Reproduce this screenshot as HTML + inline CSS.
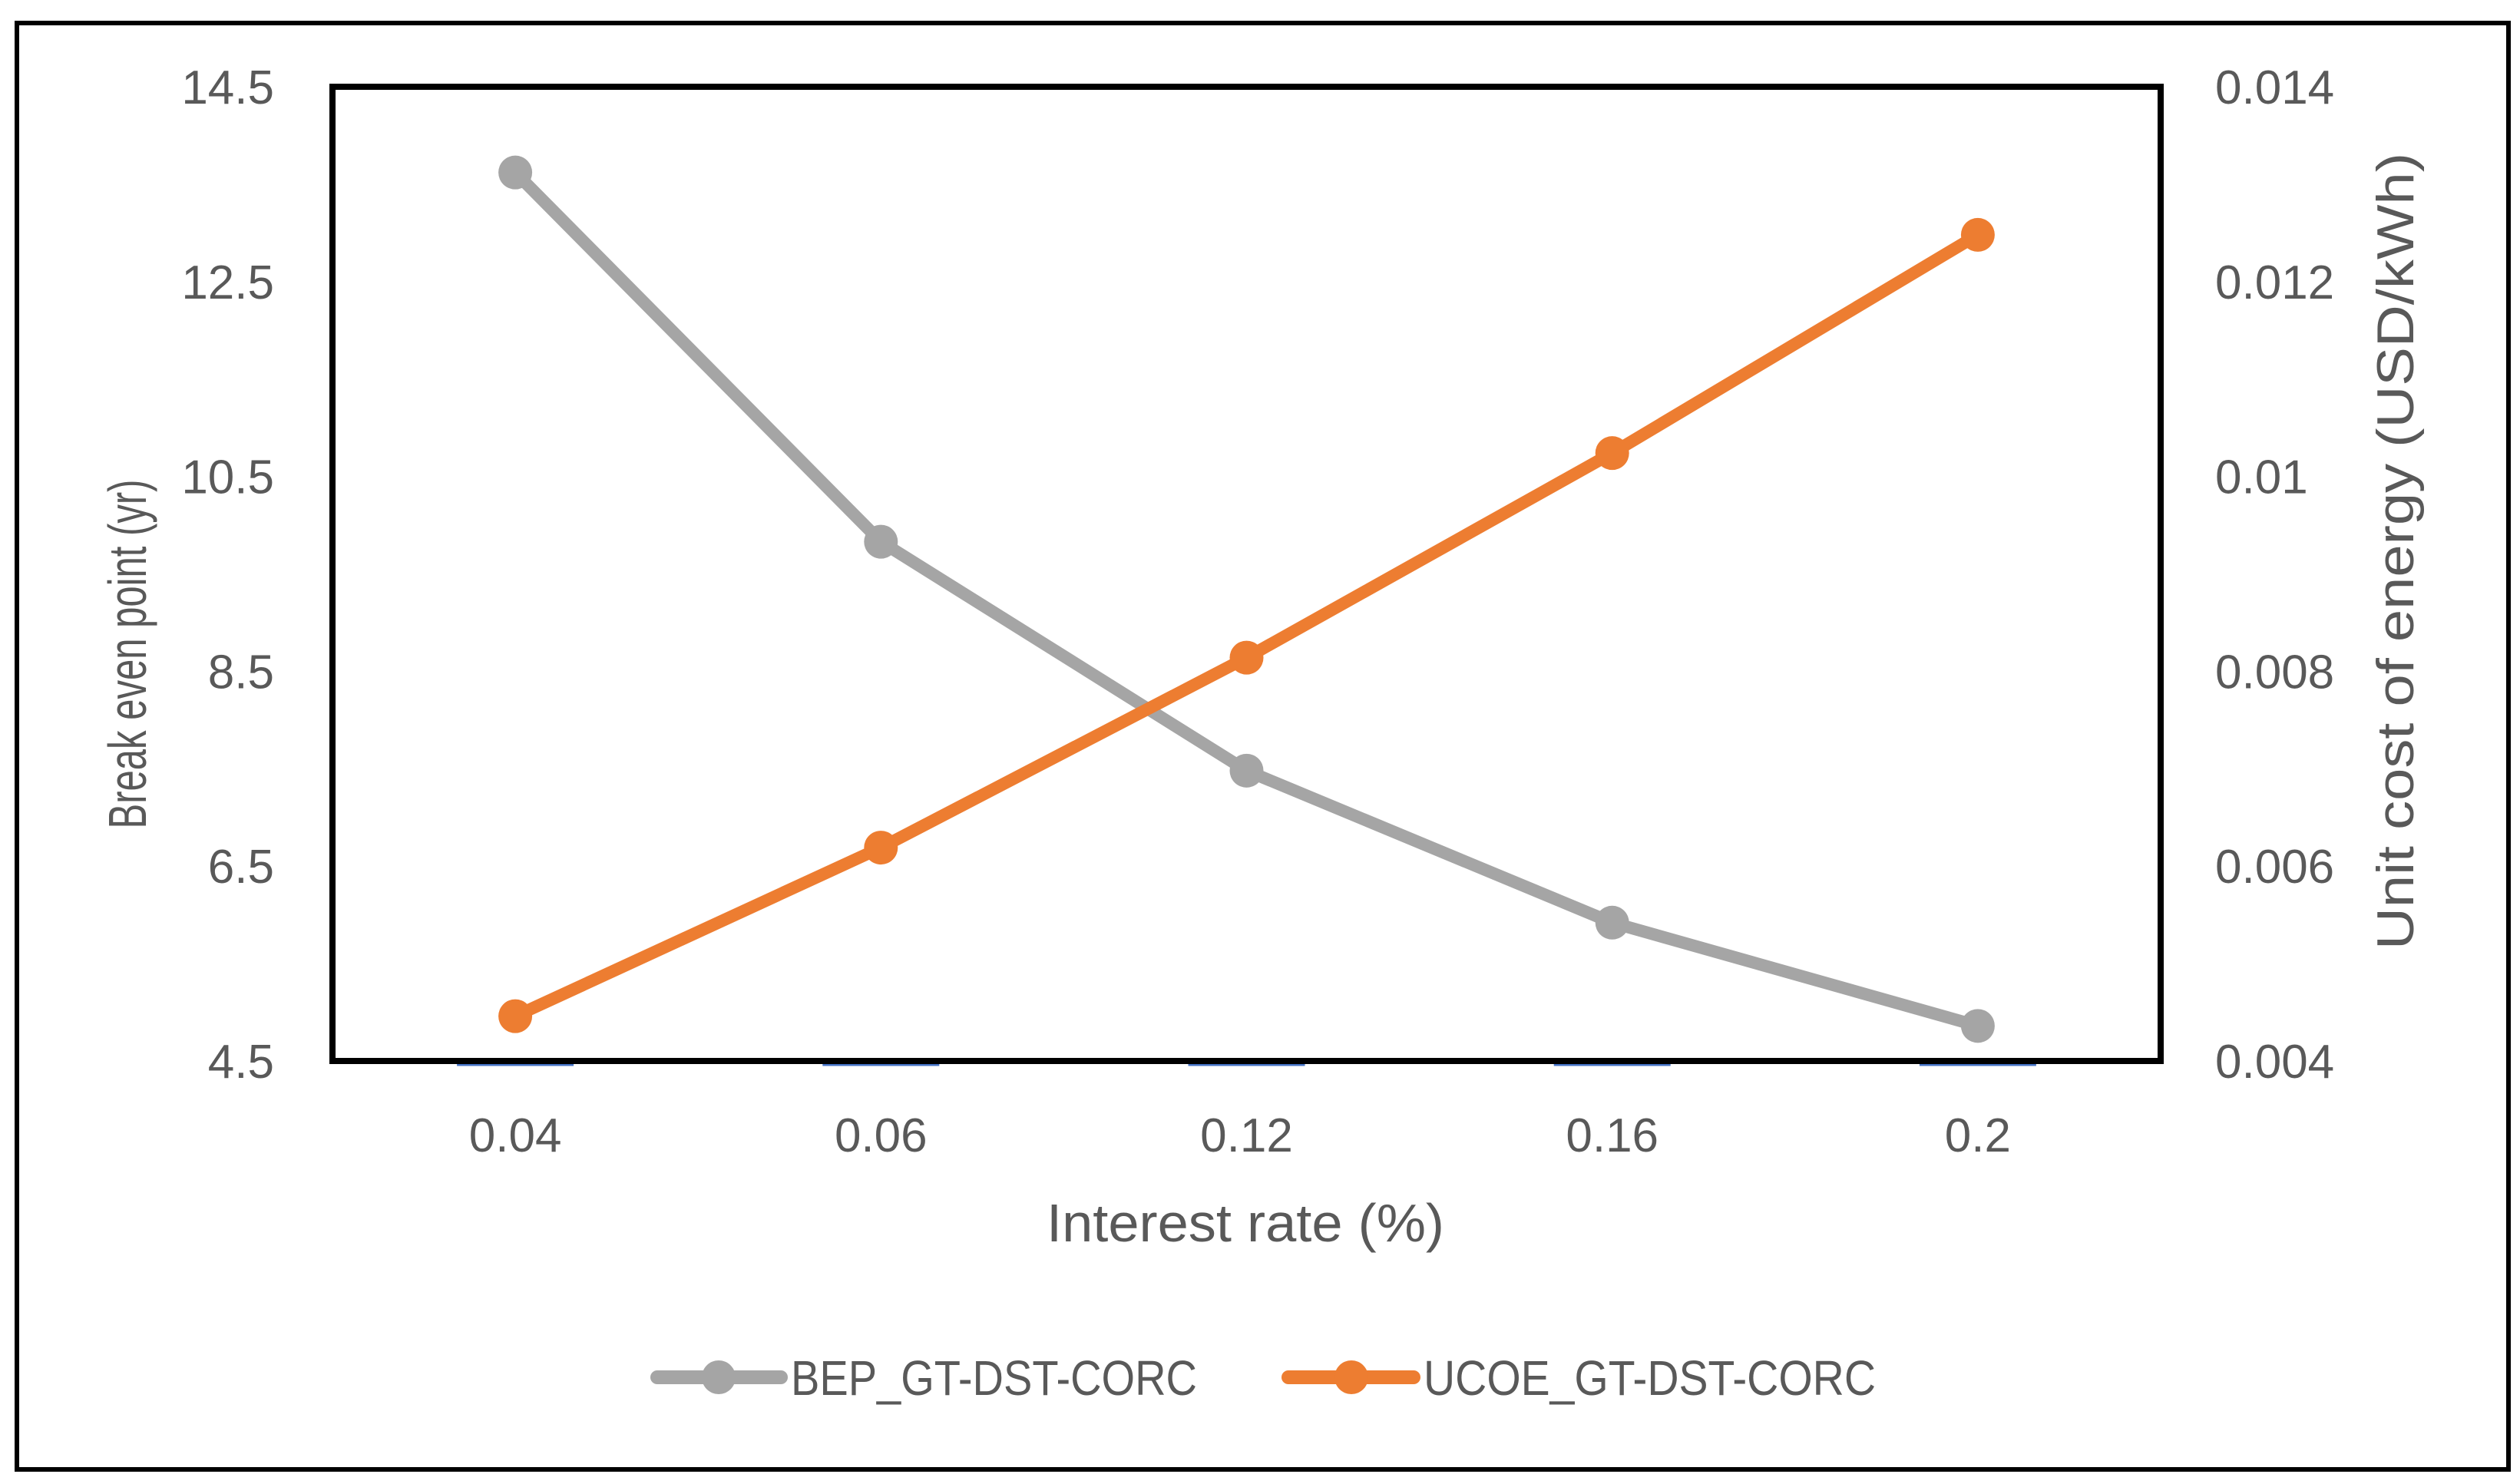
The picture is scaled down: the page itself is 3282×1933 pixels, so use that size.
<!DOCTYPE html>
<html><head><meta charset="utf-8"><style>
html,body{margin:0;padding:0;background:#fff;}
svg{display:block;}
text{font-family:"Liberation Sans",sans-serif;fill:#595959;}
</style></head><body>
<svg id="chart" width="3282" height="1933" viewBox="0 0 3282 1933">
<rect x="22" y="30" width="3245" height="1884" fill="#fff" stroke="#000" stroke-width="6"/>
<g id="grid"></g>
<g id="marks"></g>
<rect x="433" y="113" width="2381" height="1269" fill="none" stroke="#000" stroke-width="8"/>
<g id="labels"></g>
<text x="1622" y="1617" font-size="70" text-anchor="middle" textLength="518" lengthAdjust="spacingAndGlyphs">Interest rate (%)</text>
<text transform="translate(190,852) rotate(-90)" font-size="70" text-anchor="middle" textLength="455" lengthAdjust="spacingAndGlyphs">Break even point (yr)</text>
<text transform="translate(3143,718) rotate(-90)" font-size="68" text-anchor="middle" textLength="1038" lengthAdjust="spacingAndGlyphs">Unit cost of energy (USD/kWh)</text>
<g>
<g>
<line x1="856" y1="1794" x2="1017" y2="1794" stroke="#A5A5A5" stroke-width="18" stroke-linecap="round"/>
<circle cx="936" cy="1794" r="22" fill="#A5A5A5"/>
<text x="1030" y="1817" font-size="64" textLength="529" lengthAdjust="spacingAndGlyphs">BEP_GT-DST-CORC</text>
</g>
<g>
<line x1="1678" y1="1794" x2="1841" y2="1794" stroke="#ED7D31" stroke-width="18" stroke-linecap="round"/>
<circle cx="1760" cy="1794" r="22" fill="#ED7D31"/>
<text x="1854" y="1817" font-size="64" textLength="589" lengthAdjust="spacingAndGlyphs">UCOE_GT-DST-CORC</text>
</g>
</g>
</svg>
<script>
const categories = ["0.04","0.06","0.12","0.16","0.2"];
const bepValues = [13.62, 9.83, 7.48, 5.92, 4.86];
const ucoeValues = [0.00446, 0.00619, 0.00814, 0.01024, 0.01248];
const leftTicks = [4.5, 6.5, 8.5, 10.5, 12.5, 14.5];
const rightTicks = [0.004, 0.006, 0.008, 0.01, 0.012, 0.014];
const rightTickLabels = ["0.004","0.006","0.008","0.01","0.012","0.014"];

const NS = "http://www.w3.org/2000/svg";
const plotL = 433, plotR = 2814, plotT = 113, plotB = 1382;
const bandW = (plotR - plotL) / categories.length;
function xPos(i){ return plotL + bandW * (i + 0.5); }
function yLeft(v){ return plotB - (v - 4.5) / 10 * (plotB - plotT); }
function yRight(v){ return plotB - (v - 0.004) / 0.010 * (plotB - plotT); }
function mk(tag, attrs, parent){
  const e = document.createElementNS(NS, tag);
  for (const k in attrs) e.setAttribute(k, attrs[k]);
  parent.appendChild(e); return e;
}
const marks = document.getElementById('marks');
const labels = document.getElementById('labels');

categories.forEach((c,i)=>{
  const l = mk('line',{x1:xPos(i)-76,x2:xPos(i)+76,y1:plotB+5,y2:plotB+5,stroke:'#4472C4','stroke-width':3},marks);
  
  
});

function drawSeries(vals, yf, color, name){
  const pts = vals.map((v,i)=>xPos(i)+','+yf(v)).join(' ');
  const pl = mk('polyline',{points:pts,fill:'none',stroke:color,'stroke-width':16,'stroke-linejoin':'round','stroke-linecap':'round'},marks);
  
  
  vals.forEach((v,i)=>{
    const c = mk('circle',{cx:xPos(i),cy:yf(v),r:22,fill:color},marks);
    
    
  });
}
drawSeries(bepValues, yLeft, '#A5A5A5', 'bep');
drawSeries(ucoeValues, yRight, '#ED7D31', 'ucoe');

leftTicks.forEach(v=>{
  const t = mk('text',{x:357,y:yLeft(v)+22,'font-size':62,'text-anchor':'end'},labels);
  t.textContent = String(v);
  
  
});
rightTicks.forEach((v,i)=>{
  const t = mk('text',{x:2885,y:yRight(v)+22,'font-size':62,'text-anchor':'start'},labels);
  t.textContent = rightTickLabels[i];
  
  
});
categories.forEach((c,i)=>{
  const t = mk('text',{x:xPos(i),y:1500,'font-size':62,'text-anchor':'middle'},labels);
  t.textContent = c;
  
  
});
</script>
</body></html>
